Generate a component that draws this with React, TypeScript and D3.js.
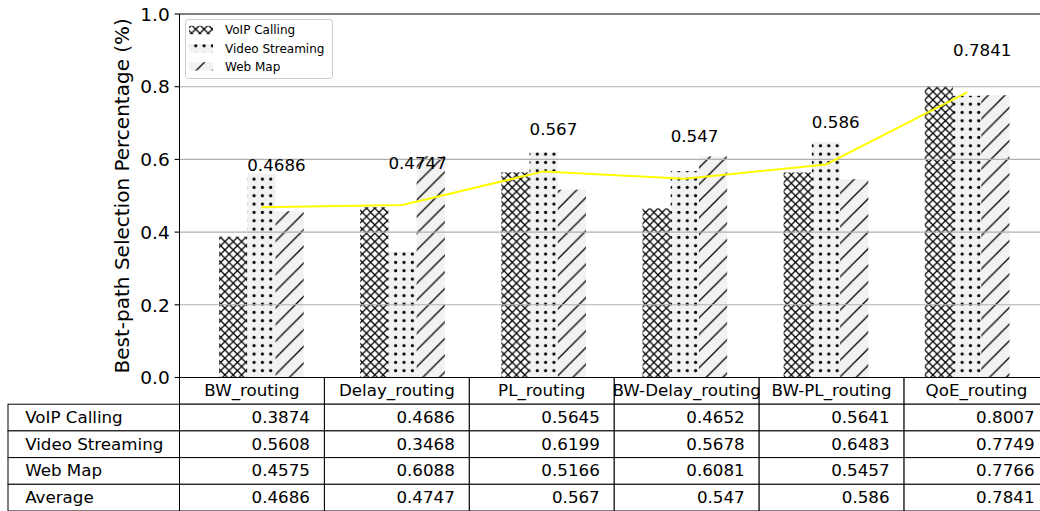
import React, { useEffect, useRef } from "react";
import * as d3 from "d3";

// chart data
const categories = ["BW_routing", "Delay_routing", "PL_routing", "BW-Delay_routing", "BW-PL_routing", "QoE_routing"];
const seriesNames = ["VoIP Calling", "Video Streaming", "Web Map"];
const voipCalling = [0.3874, 0.4686, 0.5645, 0.4652, 0.5641, 0.8007];
const videoStreaming = [0.5608, 0.3468, 0.6199, 0.5678, 0.6483, 0.7749];
const webMap = [0.4575, 0.6088, 0.5166, 0.6081, 0.5457, 0.7766];
const average = [0.4686, 0.4747, 0.567, 0.547, 0.586, 0.7841];
const yTicks = [0, 0.2, 0.4, 0.6, 0.8, 1.0];

const FONT = "DejaVu Sans, sans-serif";

export default function App() {
  const svgRef = useRef<SVGSVGElement>(null);

  useEffect(() => {
    const width = 1040;
    const height = 511;
    const svg = d3.select(svgRef.current).attr("width", width).attr("height", height);
    svg.selectAll("*").remove();

    const left = 179.5, right = 1049, top = 14, bottom = 377.5;
    const barW = 0.2;
    const xScale = d3.scaleLinear().domain([-0.58, 5.58]).range([left, right]);
    const yScale = d3.scaleLinear().domain([0, 1]).range([bottom, top]);
    const unit = xScale(1) - xScale(0);

    // hatch patterns
    const defs = svg.append("defs");
    const s = 8.33;
    const px = defs.append("pattern").attr("id", "hatch-x").attr("patternUnits", "userSpaceOnUse")
      .attr("width", s).attr("height", s);
    px.append("rect").attr("width", s).attr("height", s).attr("fill", "#ffffff");
    px.append("path").attr("d", `M-1,${s + 1}L${s + 1},-1M-1,-1L${s + 1},${s + 1}`)
      .attr("stroke", "#000").attr("stroke-width", 1.3);

    const pd = defs.append("pattern").attr("id", "hatch-dot").attr("patternUnits", "userSpaceOnUse")
      .attr("width", s).attr("height", s);
    pd.append("rect").attr("width", s).attr("height", s).attr("fill", "#f2f2f2");
    pd.append("circle").attr("cx", s / 2).attr("cy", s / 2).attr("r", 1.6).attr("fill", "#000");

    const L = 16.67;
    const ps = defs.append("pattern").attr("id", "hatch-slash").attr("patternUnits", "userSpaceOnUse")
      .attr("width", L).attr("height", L);
    ps.append("rect").attr("width", L).attr("height", L).attr("fill", "#f2f2f2");
    ps.append("path").attr("d", `M-2,${L + 2}L${L + 2},-2M-4,4L4,-4M${L - 4},${L + 4}L${L + 4},${L - 4}`)
      .attr("stroke", "#000").attr("stroke-width", 1.3);

    const fills = ["url(#hatch-x)", "url(#hatch-dot)", "url(#hatch-slash)"];
    const series = [voipCalling, videoStreaming, webMap];

    // bars
    series.forEach((vals, si) => {
      svg.append("g").selectAll("rect").data(vals).join("rect")
        .attr("x", (d, i) => xScale(i + (si - 1) * barW - barW / 2))
        .attr("width", barW * unit)
        .attr("y", d => yScale(d))
        .attr("height", d => yScale(0) - yScale(d))
        .attr("fill", fills[si]);
    });

    // grid
    svg.append("g").selectAll("line").data(yTicks.slice(1, 5)).join("line")
      .attr("x1", left).attr("x2", right)
      .attr("y1", d => yScale(d)).attr("y2", d => yScale(d))
      .attr("stroke", "#b0b0b0").attr("stroke-width", 1.1);

    // average line
    const line = d3.line<number>().x((d, i) => xScale(i)).y(d => yScale(d));
    svg.append("path").datum(average).attr("d", line)
      .attr("fill", "none").attr("stroke", "#ffff00").attr("stroke-width", 2);

    // average labels
    svg.append("g").selectAll("text").data(average).join("text")
      .attr("x", (d, i) => xScale(i - 0.1))
      .attr("y", d => yScale(d + 0.1))
      .attr("font-family", FONT).attr("font-size", 16.7).attr("fill", "#000")
      .text(d => String(d));

    // spines
    svg.append("line").attr("x1", left).attr("x2", right).attr("y1", top).attr("y2", top)
      .attr("stroke", "#000").attr("stroke-width", 1);
    svg.append("line").attr("x1", left).attr("x2", left).attr("y1", top).attr("y2", bottom)
      .attr("stroke", "#000").attr("stroke-width", 1);

    // y axis
    const yAxis = svg.append("g");
    yAxis.selectAll("line").data(yTicks).join("line")
      .attr("x1", left - 4.9).attr("x2", left)
      .attr("y1", d => yScale(d)).attr("y2", d => yScale(d))
      .attr("stroke", "#000").attr("stroke-width", 1.1);
    yAxis.selectAll("text").data(yTicks).join("text")
      .attr("x", left - 9.8).attr("y", d => yScale(d) + 6.7)
      .attr("text-anchor", "end")
      .attr("font-family", FONT).attr("font-size", 18.5)
      .text(d => d.toFixed(1));
    svg.append("text")
      .attr("transform", `translate(129,${(top + bottom) / 2}) rotate(-90)`)
      .attr("text-anchor", "middle")
      .attr("font-family", FONT).attr("font-size", 20)
      .text("Best-path Selection Percentage (%)");

    // legend
    const lg = svg.append("g");
    lg.append("rect").attr("x", 185.5).attr("y", 19.5).attr("width", 147).attr("height", 59)
      .attr("rx", 3).attr("fill", "#fff").attr("fill-opacity", 0.8)
      .attr("stroke", "#cccccc").attr("stroke-width", 1);
    seriesNames.forEach((name, i) => {
      const cy = 30 + i * 18.2;
      lg.append("rect").attr("x", 189).attr("y", cy - 4.2).attr("width", 24).attr("height", 8.4)
        .attr("fill", fills[i]);
      lg.append("text").attr("x", 225).attr("y", cy + 4.3)
        .attr("font-family", FONT).attr("font-size", 12).text(name);
    });

    // table
    const tbl = svg.append("g");
    const colX = d3.range(categories.length + 1).map(j => left + j * (right - left) / categories.length);
    const colW = (right - left) / categories.length;
    const rowH = 26.7;
    const rowLabels = [...seriesNames, "Average"];
    const rows = [voipCalling, videoStreaming, webMap, average];
    const labelX0 = 8;

    categories.forEach((c, j) => {
      tbl.append("rect").attr("x", colX[j]).attr("y", bottom).attr("width", colW).attr("height", rowH)
        .attr("fill", "#fff").attr("stroke", "#000").attr("stroke-width", 1);
    });
    rows.forEach((vals, r) => {
      const y0 = bottom + (r + 1) * rowH;
      tbl.append("rect").attr("x", labelX0).attr("y", y0).attr("width", left - labelX0).attr("height", rowH)
        .attr("fill", "#fff").attr("stroke", "#000").attr("stroke-width", 1);
      vals.forEach((v, j) => {
        tbl.append("rect").attr("x", colX[j]).attr("y", y0).attr("width", colW).attr("height", rowH)
          .attr("fill", "#fff").attr("stroke", "#000").attr("stroke-width", 1);
      });
    });
    categories.forEach((c, j) => {
      tbl.append("text").attr("x", colX[j] + colW / 2).attr("y", bottom + rowH / 2 + 5)
        .attr("text-anchor", "middle").attr("font-family", FONT).attr("font-size", 16.7).text(c);
    });
    rows.forEach((vals, r) => {
      const cy = bottom + (r + 1) * rowH + rowH / 2 + 5.5;
      tbl.append("text").attr("x", labelX0 + 0.1 * (left - labelX0)).attr("y", cy)
        .attr("font-family", FONT).attr("font-size", 16.7).text(rowLabels[r]);
      vals.forEach((v, j) => {
        tbl.append("text").attr("x", colX[j + 1] - 0.1 * colW).attr("y", cy)
          .attr("text-anchor", "end").attr("font-family", FONT).attr("font-size", 16.7).text(String(v));
      });
    });
  }, []);

  return (
    <svg ref={svgRef} style={{ position: "absolute", left: 0, top: 0, background: "#fff" }} />
  );
}
